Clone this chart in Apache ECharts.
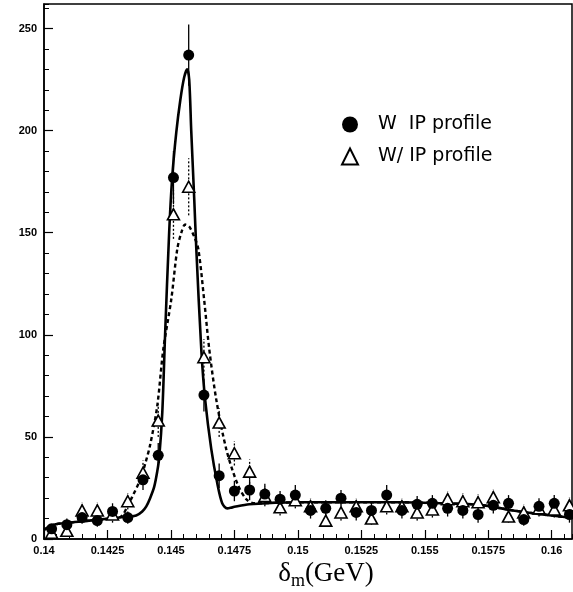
<!DOCTYPE html>
<html>
<head>
<meta charset="utf-8">
<script src="https://cdn.jsdelivr.net/npm/echarts@6/dist/echarts.min.js"></script>
<style>
html,body{margin:0;padding:0;background:#fff;}
#main{width:573px;height:592px;}
</style>
</head>
<body>
<div id="main"></div>
<script>
// bin centres (GeV)
var binX = [0.1403,0.1409,0.1415,0.1421,0.1427,0.1433,0.1439,0.1445,0.1451,0.1457,
    0.1463,0.1469,0.1475,0.1481,0.1487,0.1493,0.1499,0.1505,0.1511,0.1517,
    0.1523,0.1529,0.1535,0.1541,0.1547,0.1553,0.1559,0.1565,0.1571,0.1577,
    0.1583,0.1589,0.1595,0.1601,0.1607];
// W IP profile (filled circles)
var withIP = [5,7,10.5,9,13.5,10.5,29,41,177,237,
    70.5,31,23.5,24,22,19.5,21.5,14,15,20,
    13,14,21.5,14,17,17.5,15,14,12,16.5,
    17.5,9.5,16,17.5,12];
var withIPErr = [2,3,3,3,4,3,5,6,13,15,8,6,5,5,5,4,5,4,4,4,4,4,5,4,4,4,4,4,4,4,4,3,4,4,4];
// W/ IP profile (open triangles)
var woIP = [3,4,14,14,12,18.5,32.5,58,159,172.5,
    89,57,42,33,21,15.5,19,16,9,13,
    16,10,16,16,13,14.5,19.5,18.5,18,20.5,
    11,13,15,14.5,16.5];
var woIPErr = [2,2,4,4,4,4,6,8,12,14,9,7,6,6,5,4,4,4,3,4,4,3,4,4,4,4,4,4,4,4,3,4,4,4,4];
// fit curves
var fitSolidX = [0.14,0.14039,0.14099,0.14178,0.14257,0.14335,0.14363,0.14387,0.14403,0.14418,
    0.14434,0.14446,0.14454,0.14466,0.14477,0.14493,0.14505,0.14521,0.14537,0.14552,
    0.14564,0.14572,0.1458,0.14592,0.146,0.1462,0.14635,0.14659,0.14683,0.14702,
    0.14722,0.14742,0.14809,0.15006,0.15401,0.15559,0.15717,0.15847,0.15981,0.16084];
var fitSolidY = [4.5,7,8,9,10,11,11.5,13.5,16,20,
    25.5,33,40,62,100,150,177,199,215,226,
    230,225,200,166,142,92,68,44,27,17.5,
    15,15.5,17,18,18,17.5,16.7,14,11.8,10.3];
var fitDashX = [0.14,0.14039,0.14099,0.14178,0.14257,0.14304,0.14335,0.14347,0.14379,0.14399,
    0.14418,0.14446,0.1447,0.14501,0.14525,0.14541,0.14556,0.14572,0.14592,0.14608,
    0.14631,0.14651,0.14679,0.14718,0.14762,0.14797,0.14829,0.15006,0.15401,0.15559,
    0.15717,0.15847,0.15981,0.16084];
var fitDashY = [4.5,7,8,9,10,11,17.6,20.5,29,37,
    46,65,93,117,142,150,154,153,148,142,
    117,93,68,44,27,19.5,17.5,18,18,17.5,
    16.7,14,11.8,10.3];

var myChart = echarts.init(document.getElementById('main'));

function pairs(xs, ys) {
    var out = [];
    for (var i = 0; i < xs.length; i++) out.push([xs[i], ys[i]]);
    return out;
}
function errData(xs, ys, es) {
    var out = [];
    for (var i = 0; i < xs.length; i++) out.push([xs[i], ys[i], es[i]]);
    return out;
}
function errRender(dash) {
    return function(params, api) {
        var x = api.value(0), y = api.value(1), e = api.value(2);
        var p1 = api.coord([x, y - e]);
        var p2 = api.coord([x, y + e]);
        return {
            type: 'line',
            shape: {x1: p1[0], y1: p1[1], x2: p2[0], y2: p2[1]},
            style: {stroke: '#000', lineWidth: 1.3, lineDash: dash}
        };
    };
}

var XMIN = 0.14, XMAX = 0.1608, YMIN = 0, YMAX = 262;

// small tick-only axes for the minor ticks
function minorAxis(min, max, step) {
    return {
        type: 'value', min: min, max: max, interval: step,
        axisLine: {show: false},
        axisTick: {show: true, inside: true, length: 5, lineStyle: {color: '#000', width: 1}},
        axisLabel: {show: false},
        splitLine: {show: false}
    };
}

var option = {
    animation: false,
    backgroundColor: '#fff',
    grid: {
        left: 44, right: 1, top: 4, bottom: 53,
        outerBoundsMode: 'none', containLabel: false,
        show: true, borderColor: '#000', borderWidth: 1.5
    },
    legend: {
        data: ['W  IP profile', 'W/ IP profile'],
        orient: 'vertical',
        left: 336, top: 110,
        itemWidth: 16, itemHeight: 16, itemGap: 13,
        textStyle: {fontSize: 19, color: '#000', fontFamily: 'DejaVu Sans', padding: [0, 0, 0, 15]}
    },
    xAxis: [{
        type: 'value',
        min: XMIN, max: XMAX, interval: 0.0025,
        axisLine: {lineStyle: {color: '#000', width: 1.5}},
        axisTick: {inside: true, length: 9, lineStyle: {color: '#000', width: 1.2}},
        splitLine: {show: false},
        axisLabel: {
            color: '#000', fontSize: 11, fontWeight: 'bold', margin: 6,
            fontFamily: 'Liberation Sans', showMaxLabel: false,
            formatter: function(v) { return String(+v.toFixed(4)); }
        },
        name: '{d|δ}{s|m}{d|(GeV)}',
        nameLocation: 'middle', nameGap: 19,
        nameTextStyle: {
            padding: [0, 0, 0, 36],
            rich: {
                d: {fontSize: 27, fontFamily: 'Liberation Serif', color: '#000'},
                s: {fontSize: 18, fontFamily: 'Liberation Serif', color: '#000', padding: [14, 0, 0, 0]}
            }
        }
    }, Object.assign(minorAxis(XMIN, XMAX, 0.0005), {position: 'bottom'})],
    yAxis: [{
        type: 'value',
        min: YMIN, max: YMAX, interval: 50,
        axisLine: {show: true, lineStyle: {color: '#000', width: 1.5}},
        axisTick: {inside: true, length: 9, lineStyle: {color: '#000', width: 1.2}},
        splitLine: {show: false},
        axisLabel: {
            color: '#000', fontSize: 11, fontWeight: 'bold', margin: 7,
            fontFamily: 'Liberation Sans', showMaxLabel: false
        }
    }, Object.assign(minorAxis(YMIN, YMAX, 10), {position: 'left'})],
    series: [{
        name: 'fit2',
        type: 'line',
        data: pairs(fitDashX, fitDashY),
        smooth: 0.3,
        symbol: 'none',
        lineStyle: {color: '#000', width: 2.4, type: [4, 3]},
        z: 2
    }, {
        name: 'fit1',
        type: 'line',
        data: pairs(fitSolidX, fitSolidY),
        smooth: 0.3,
        symbol: 'none',
        lineStyle: {color: '#000', width: 2.6},
        z: 3
    }, {
        name: 'err2',
        type: 'custom',
        renderItem: errRender([2, 2]),
        encode: {x: 0, y: 1},
        data: errData(binX, woIP, woIPErr),
        z: 4
    }, {
        name: 'err1',
        type: 'custom',
        renderItem: errRender(null),
        encode: {x: 0, y: 1},
        data: errData(binX, withIP, withIPErr),
        z: 4
    }, {
        name: 'W/ IP profile',
        type: 'scatter',
        data: pairs(binX, woIP),
        symbol: 'triangle',
        symbolSize: [12, 11],
        itemStyle: {color: '#fff', borderColor: '#000', borderWidth: 1.6, opacity: 1},
        z: 5
    }, {
        name: 'W  IP profile',
        type: 'scatter',
        data: pairs(binX, withIP),
        symbol: 'circle',
        symbolSize: 11,
        itemStyle: {color: '#000', opacity: 1},
        z: 6
    }]
};

myChart.setOption(option);
</script>
</body>
</html>
